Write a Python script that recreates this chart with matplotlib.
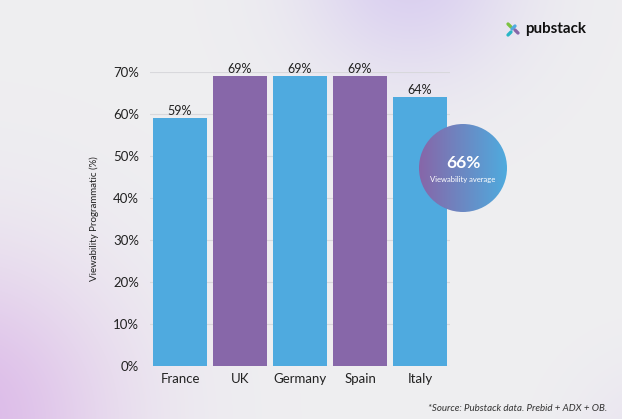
import numpy as np
import matplotlib.pyplot as plt
from matplotlib.patches import Circle

plt.rcParams['font.family'] = ['Lato', 'DejaVu Sans']

countries = ["France", "UK", "Germany", "Spain", "Italy"]
viewability = [59, 69, 69, 69, 64]
bar_colors = ["#4faadf", "#8767a9", "#4faadf", "#8767a9", "#4faadf"]
yticks = [0, 10, 20, 30, 40, 50, 60, 70]
average = 66

W, H = 622, 419
fig = plt.figure(figsize=(W / 100, H / 100), dpi=100)

# background with soft purple glows
bg = fig.add_axes([0, 0, 1, 1])
yy, xx = np.mgrid[0:H, 0:W]
base = np.ones((H, W, 3)) * np.array([0.935, 0.935, 0.945])
glows = [((410, -30, 75, 0.85), (0.84, 0.79, 0.94)),
         ((-40, 420, 110, 0.95), (0.86, 0.72, 0.91)),
         ((650, 440, 50, 0.25), (0.86, 0.78, 0.93))]
for (cx, cy, s, a), col in glows:
    g = a * np.exp(-((xx - cx) ** 2 + (yy - cy) ** 2) / (2 * s ** 2))
    base = base * (1 - g[..., None]) + np.array(col) * g[..., None]
bg.imshow(base, extent=[0, W, H, 0], aspect="auto")
bg.set_xlim(0, W)
bg.set_ylim(H, 0)
bg.axis("off")

ax = fig.add_axes([150 / W, 53 / H, 300 / W, 294 / H])
ax.patch.set_alpha(0)
bars = ax.bar(countries, viewability, width=0.9, color=bar_colors, zorder=3)
ax.set_xlim(-0.5, 4.5)
ax.set_ylim(0, 70)
ax.set_yticks(yticks)
ax.set_yticklabels([f"{v}%" for v in yticks])
ax.grid(axis="y", color="#d8d8dc", linewidth=0.8, zorder=0)
for s in ax.spines.values():
    s.set_visible(False)
ax.tick_params(length=0, labelsize=9.5, colors="#222222")
ax.tick_params(axis="y", pad=8)
ax.tick_params(axis="x", pad=5)
ax.set_ylabel("Viewability Programmatic (%)", fontsize=7, color="#222222", labelpad=10)
for b, v in zip(bars, viewability):
    ax.text(b.get_x() + b.get_width() / 2, v + 0.4, f"{v}%", ha="center", va="bottom",
            fontsize=9, color="#222222", zorder=4)

# gradient circle with average
ov = fig.add_axes([0, 0, 1, 1])
ov.set_xlim(0, W)
ov.set_ylim(H, 0)
ov.axis("off")
cx, cy, r = 463, 168, 44
grad = np.linspace(0, 1, 200)
c1 = np.array([0.53, 0.40, 0.66])
c2 = np.array([0.31, 0.67, 0.87])
img = (c1[None, :] * (1 - grad[:, None]) + c2[None, :] * grad[:, None])[None, :, :]
im = ov.imshow(img, extent=[cx - r, cx + r, cy + r, cy - r], aspect="auto", zorder=5)
clip = Circle((cx, cy), r, transform=ov.transData)
im.set_clip_path(clip)
ov.set_xlim(0, W)
ov.set_ylim(H, 0)
ov.text(cx, cy - 5, f"{average}%", ha="center", va="center", fontsize=12.5,
        fontweight="bold", color="white", zorder=6)
ov.text(cx, cy + 11, "Viewability average", ha="center", va="center", fontsize=5.5,
        color="white", zorder=6)

# logo
ov.plot([508, 511], [24, 27], color="#7cc242", lw=2.4, solid_capstyle="round")
ov.plot([512, 515], [29, 26], color="#4faadf", lw=2.4, solid_capstyle="round")
ov.plot([515, 518], [30, 33], color="#8767a9", lw=2.4, solid_capstyle="round")
ov.plot([508, 511], [35, 32], color="#29b6c6", lw=2.4, solid_capstyle="round")
ov.text(525, 29, "pubstack", ha="left", va="center", fontsize=10.9, fontweight="bold",
        color="#111111")

ov.text(607, 408, "*Source: Pubstack data. Prebid + ADX + OB.", ha="right", va="center",
        fontsize=7, style="italic", color="#333333")

fig.savefig("out.png", dpi=100)
